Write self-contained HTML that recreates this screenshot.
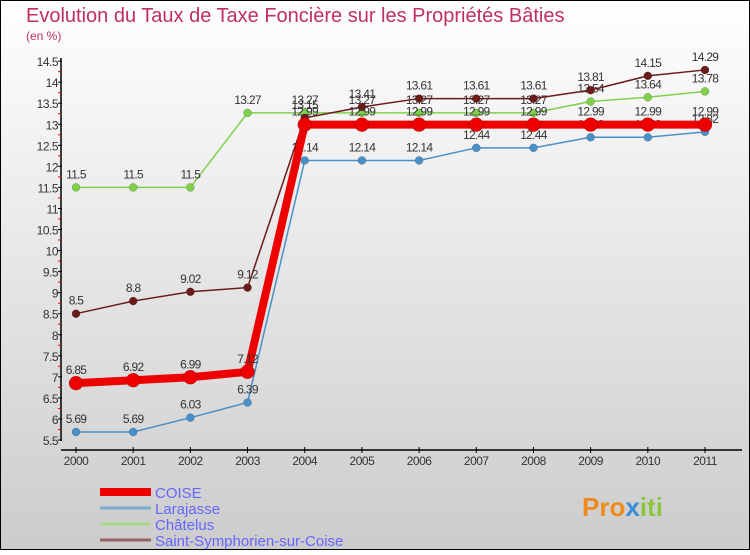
<!DOCTYPE html>
<html><head><meta charset="utf-8"><style>
html,body{margin:0;padding:0}
body{width:750px;height:550px;overflow:hidden;font-family:"Liberation Sans",sans-serif}
</style></head><body>
<svg width="750" height="550" xmlns="http://www.w3.org/2000/svg">
<defs><linearGradient id="bg" x1="0" y1="0" x2="0" y2="1"><stop offset="0" stop-color="#ffffff"/><stop offset="1" stop-color="#cccccc"/></linearGradient></defs>
<rect x="0.5" y="0.5" width="749" height="549" fill="url(#bg)" stroke="#000"/>
<text x="26" y="22" font-size="20" fill="#c0305e">Evolution du Taux de Taxe Foncière sur les Propriétés Bâties</text>
<text x="26" y="40" font-size="12" fill="#c0305e">(en %)</text>
<g id="axes"></g>
<g id="series"></g>
<g id="legend"></g>
<g><text x="582" y="516" font-size="26" font-weight="bold" fill="#f08a1c">Pro<tspan fill="#3a8fd8">x</tspan><tspan fill="#8cc63f">iti</tspan></text></g>
</svg>
<script>
const years=[2000,2001,2002,2003,2004,2005,2006,2007,2008,2009,2010,2011];
const coise=[6.85,6.92,6.99,7.12,12.99,12.99,12.99,12.99,12.99,12.99,12.99,12.99];
const larajasse=[5.69,5.69,6.03,6.39,12.14,12.14,12.14,12.44,12.44,12.69,12.69,12.82];
const chatelus=[11.5,11.5,11.5,13.27,13.27,13.27,13.27,13.27,13.27,13.54,13.64,13.78];
const ssc=[8.5,8.8,9.02,9.12,13.15,13.41,13.61,13.61,13.61,13.81,14.15,14.29];
const yTicks=[5.5,6,6.5,7,7.5,8,8.5,9,9.5,10,10.5,11,11.5,12,12.5,13,13.5,14,14.5];
const NS="http://www.w3.org/2000/svg";
const X=i=>76+i*(705-76)/(years.length-1);
const Y=v=>440-(v-5.5)*42.1;
function mk(tag,attrs,parent){const e=document.createElementNS(NS,tag);for(const k in attrs)e.setAttribute(k,attrs[k]);parent.appendChild(e);return e;}
const axes=document.getElementById('axes');
let a=mk('line',{x1:61,y1:58,x2:61,y2:441,stroke:'#000','stroke-width':1.5},axes);


a=mk('line',{x1:61,y1:450,x2:742,y2:450,stroke:'#000','stroke-width':1.5},axes);


yTicks.forEach((t,i)=>{
 mk('line',{x1:58,y1:Y(t),x2:62,y2:Y(t),stroke:'#000'},axes);
 if(i<yTicks.length-1) mk('line',{x1:58,y1:Y(t+0.25),x2:61,y2:Y(t+0.25),stroke:'#e00'},axes);
 const tx=mk('text',{x:58,y:Y(t)+5,'font-size':12,'text-anchor':'end',fill:'#333','letter-spacing':'-0.5'},axes);
 tx.textContent=t;
 
 
});
years.forEach((yr,i)=>{
 mk('line',{x1:X(i),y1:447,x2:X(i),y2:453,stroke:'#000'},axes);
 const tx=mk('text',{x:X(i),y:465,'font-size':12,'text-anchor':'middle',fill:'#333','letter-spacing':'-0.5'},axes);
 tx.textContent=yr;
 
 
});
const sg=document.getElementById('series');
function draw(vals,color,w,r,name){
 const g=mk('g',{},sg);
 
 
 const p=mk('polyline',{points:vals.map((v,i)=>X(i)+','+Y(v)).join(' '),fill:'none',stroke:color,'stroke-width':w},g);
 
 
 vals.forEach((v,i)=>{
  const c=mk('circle',{cx:X(i),cy:Y(v),r:r,fill:color,stroke:'rgba(0,0,0,0.3)','stroke-width':0.5},g);
  
  
  const t=mk('text',{x:X(i),y:Y(v)-9,'font-size':12,'text-anchor':'middle',fill:'#333','letter-spacing':'-0.7'},g);
  t.textContent=v;
  
  
 });
}
draw(larajasse,'#4a90c8',1.5,4,'larajasse');
draw(chatelus,'#7fd14a',1.5,4,'chatelus');
draw(ssc,'#6b1a1a',1.5,4,'saint-symphorien');
draw(coise,'#ee0000',8,7,'coise');
const lg=document.getElementById('legend');
const items=[['COISE','#ee0000',8],['Larajasse','#7aaed0',3],['Châtelus','#a6d88a',3],['Saint-Symphorien-sur-Coise','#956565',3]];
items.forEach((it,i)=>{
 const y=492+i*16;
 const g=mk('g',{},lg);
 
 
 mk('line',{x1:100,y1:y,x2:151,y2:y,stroke:it[1],'stroke-width':it[2]},g);
 const t=mk('text',{x:155,y:y+6,'font-size':15,fill:'#6666ff'},g);
 t.textContent=it[0];
});
</script>
</body></html>
